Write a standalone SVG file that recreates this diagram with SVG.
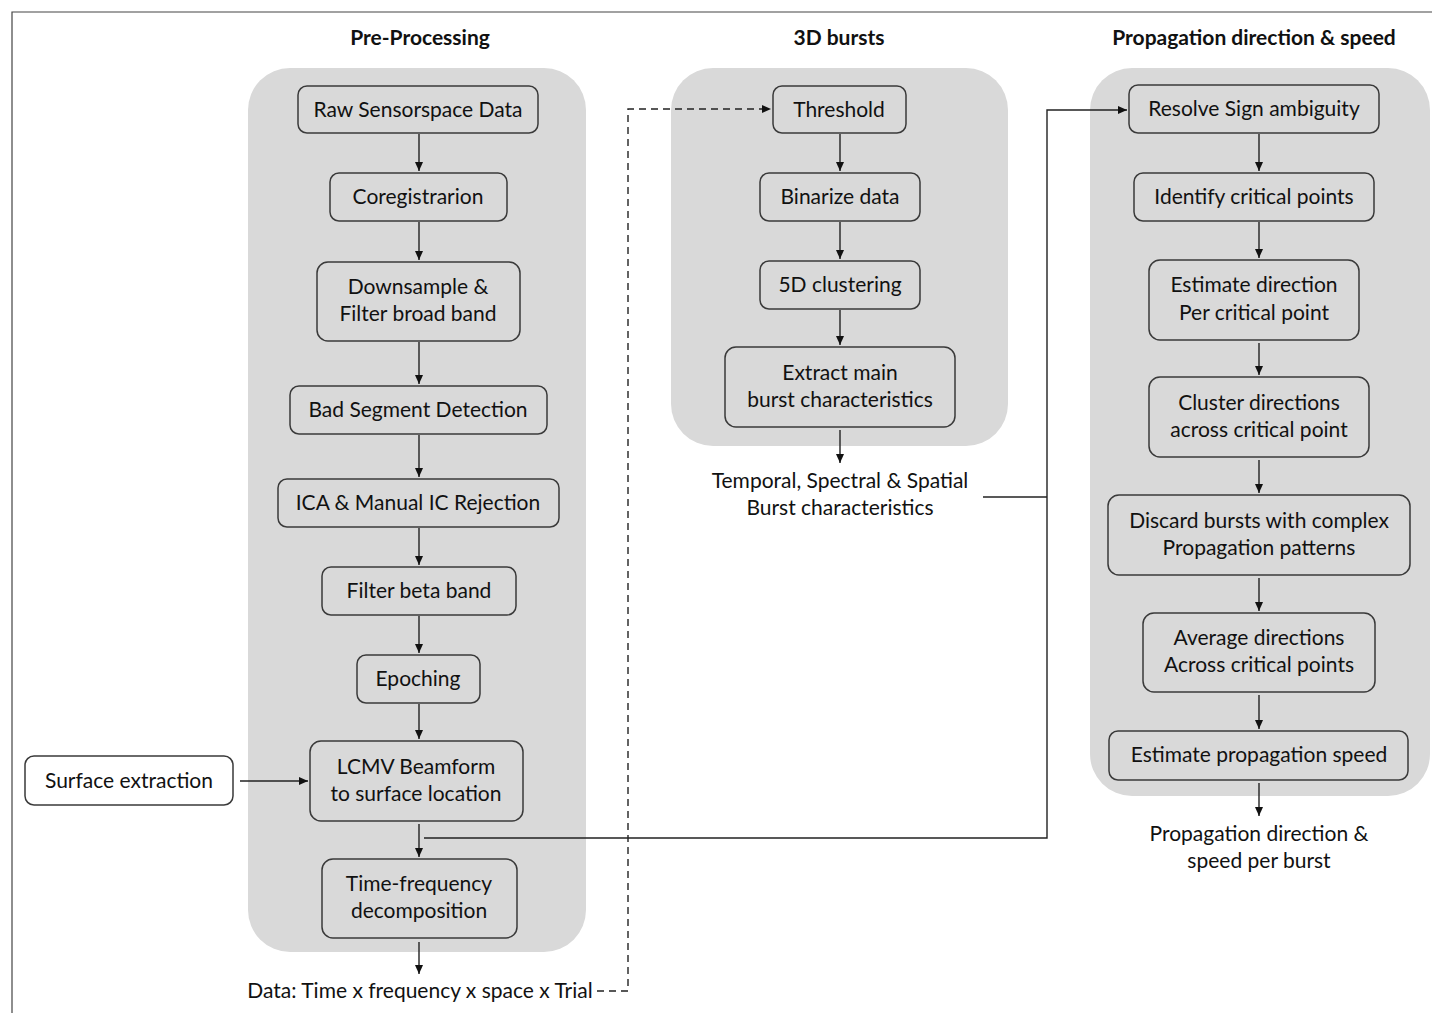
<svg xmlns="http://www.w3.org/2000/svg" width="1432" height="1013" viewBox="0 0 1432 1013">
<defs>
<marker id="ah" markerWidth="12" markerHeight="12" refX="10" refY="5.5" orient="auto" markerUnits="userSpaceOnUse">
<path d="M1,1.5 L10,5.5 L1,9.5 Z" fill="#111"/>
</marker>
</defs>
<style>
.panel{fill:#d9d9d9;}
.node{fill:#d9d9d9;stroke:#3a3a3a;stroke-width:1.5;}
.wnode{fill:#ffffff;stroke:#3a3a3a;stroke-width:1.5;}
.t{font-family:Lato,"Liberation Sans",sans-serif;font-size:21px;fill:#111;text-anchor:middle;}
.h{font-family:Lato,"Liberation Sans",sans-serif;font-size:21px;font-weight:bold;fill:#111;text-anchor:middle;}
.c{fill:none;stroke:#222;stroke-width:1.4;}
.d{fill:none;stroke:#222;stroke-width:1.4;stroke-dasharray:7,5;}
</style>
<rect x="0" y="0" width="1432" height="1013" fill="#ffffff"/>
<path d="M12,1013 L12,12 L1432,12" fill="none" stroke="#444" stroke-width="1.2"/>

<g id="titles">
<text class="h" x="420" y="45">Pre-Processing</text>
<text class="h" x="839" y="45">3D bursts</text>
<text class="h" x="1254" y="45">Propagation direction &amp; speed</text>
</g>

<g id="panels">
<rect id="panel-pre" class="panel" x="248" y="68" width="338" height="884" rx="42"/>
<rect id="panel-3d" class="panel" x="671" y="68" width="337" height="378" rx="42"/>
<rect id="panel-prop" class="panel" x="1090" y="68" width="340" height="728" rx="42"/>
</g>

<g id="connectors">
<line class="c" x1="419" y1="134" x2="419" y2="171" marker-end="url(#ah)"/>
<line class="c" x1="419" y1="222" x2="419" y2="260" marker-end="url(#ah)"/>
<line class="c" x1="419" y1="342" x2="419" y2="384" marker-end="url(#ah)"/>
<line class="c" x1="419" y1="435" x2="419" y2="477" marker-end="url(#ah)"/>
<line class="c" x1="419" y1="528" x2="419" y2="565" marker-end="url(#ah)"/>
<line class="c" x1="419" y1="616" x2="419" y2="653" marker-end="url(#ah)"/>
<line class="c" x1="419" y1="704" x2="419" y2="739" marker-end="url(#ah)"/>
<line class="c" x1="240" y1="781" x2="308" y2="781" marker-end="url(#ah)"/>
<line class="c" x1="419" y1="824" x2="419" y2="857" marker-end="url(#ah)"/>
<line class="c" x1="419" y1="942" x2="419" y2="974" marker-end="url(#ah)"/>
<polyline class="c" points="424,838 1047,838 1047,110 1127,110" marker-end="url(#ah)"/>
<line class="c" x1="983" y1="497" x2="1047" y2="497"/>
<polyline class="d" points="597,991 628,991 628,109 771,109" marker-end="url(#ah)"/>
<line class="c" x1="840" y1="134" x2="840" y2="171" marker-end="url(#ah)"/>
<line class="c" x1="840" y1="222" x2="840" y2="259" marker-end="url(#ah)"/>
<line class="c" x1="840" y1="310" x2="840" y2="345" marker-end="url(#ah)"/>
<line class="c" x1="840" y1="430" x2="840" y2="463" marker-end="url(#ah)"/>
<line class="c" x1="1259" y1="134" x2="1259" y2="171" marker-end="url(#ah)"/>
<line class="c" x1="1259" y1="222" x2="1259" y2="258" marker-end="url(#ah)"/>
<line class="c" x1="1259" y1="343" x2="1259" y2="375" marker-end="url(#ah)"/>
<line class="c" x1="1259" y1="460" x2="1259" y2="493" marker-end="url(#ah)"/>
<line class="c" x1="1259" y1="578" x2="1259" y2="611" marker-end="url(#ah)"/>
<line class="c" x1="1259" y1="695" x2="1259" y2="729" marker-end="url(#ah)"/>
<line class="c" x1="1259" y1="783" x2="1259" y2="816" marker-end="url(#ah)"/>
</g>

<g id="n-raw"><rect class="node" x="298" y="86" width="240" height="47" rx="9"/><text class="t" x="418" y="117">Raw Sensorspace Data</text></g>
<g id="n-coreg"><rect class="node" x="330" y="173" width="177" height="48" rx="9"/><text class="t" x="418" y="204">Coregistrarion</text></g>
<g id="n-down"><rect class="node" x="317" y="262" width="203" height="79" rx="11"/><text class="t" x="418" y="294">Downsample &amp;</text><text class="t" x="418" y="321">Filter broad band</text></g>
<g id="n-bad"><rect class="node" x="290" y="386" width="257" height="48" rx="9"/><text class="t" x="418" y="417">Bad Segment Detection</text></g>
<g id="n-ica"><rect class="node" x="278" y="479" width="281" height="48" rx="9"/><text class="t" x="418" y="510">ICA &amp; Manual IC Rejection</text></g>
<g id="n-beta"><rect class="node" x="322" y="567" width="194" height="48" rx="9"/><text class="t" x="419" y="598">Filter beta band</text></g>
<g id="n-epoch"><rect class="node" x="357" y="655" width="123" height="48" rx="9"/><text class="t" x="418" y="686">Epoching</text></g>
<g id="n-lcmv"><rect class="node" x="310" y="741" width="213" height="80" rx="11"/><text class="t" x="416" y="774">LCMV Beamform</text><text class="t" x="416" y="801">to surface location</text></g>
<g id="n-tf"><rect class="node" x="322" y="859" width="195" height="79" rx="11"/><text class="t" x="419" y="891">Time-frequency</text><text class="t" x="419" y="918">decomposition</text></g>
<g id="n-surface"><rect class="wnode" x="25" y="756" width="208" height="49" rx="9"/><text class="t" x="129" y="788">Surface extraction</text></g>
<g id="n-data"><text class="t" x="420" y="998">Data: Time x frequency x space x Trial</text></g>

<g id="n-thresh"><rect class="node" x="773" y="86" width="133" height="47" rx="9"/><text class="t" x="839" y="117">Threshold</text></g>
<g id="n-bin"><rect class="node" x="760" y="173" width="160" height="48" rx="9"/><text class="t" x="840" y="204">Binarize data</text></g>
<g id="n-5d"><rect class="node" x="760" y="261" width="160" height="48" rx="9"/><text class="t" x="840" y="292">5D clustering</text></g>
<g id="n-extract"><rect class="node" x="725" y="347" width="230" height="80" rx="11"/><text class="t" x="840" y="380">Extract main</text><text class="t" x="840" y="407">burst characteristics</text></g>
<g id="n-temporal"><text class="t" x="840" y="488">Temporal, Spectral &amp; Spatial</text><text class="t" x="840" y="515">Burst characteristics</text></g>

<g id="n-resolve"><rect class="node" x="1129" y="85" width="250" height="48" rx="9"/><text class="t" x="1254" y="116">Resolve Sign ambiguity</text></g>
<g id="n-identify"><rect class="node" x="1134" y="173" width="240" height="48" rx="9"/><text class="t" x="1254" y="204">Identify critical points</text></g>
<g id="n-estdir"><rect class="node" x="1149" y="260" width="210" height="80" rx="11"/><text class="t" x="1254" y="292">Estimate direction</text><text class="t" x="1254" y="320">Per critical point</text></g>
<g id="n-cluster"><rect class="node" x="1149" y="377" width="220" height="80" rx="11"/><text class="t" x="1259" y="410">Cluster directions</text><text class="t" x="1259" y="437">across critical point</text></g>
<g id="n-discard"><rect class="node" x="1108" y="495" width="302" height="80" rx="11"/><text class="t" x="1259" y="528">Discard bursts with complex</text><text class="t" x="1259" y="555">Propagation patterns</text></g>
<g id="n-average"><rect class="node" x="1143" y="613" width="232" height="79" rx="11"/><text class="t" x="1259" y="645">Average directions</text><text class="t" x="1259" y="672">Across critical points</text></g>
<g id="n-speed"><rect class="node" x="1109" y="731" width="299" height="49" rx="9"/><text class="t" x="1259" y="762">Estimate propagation speed</text></g>
<g id="n-result"><text class="t" x="1259" y="841">Propagation direction &amp;</text><text class="t" x="1259" y="868">speed per burst</text></g>
</svg>
